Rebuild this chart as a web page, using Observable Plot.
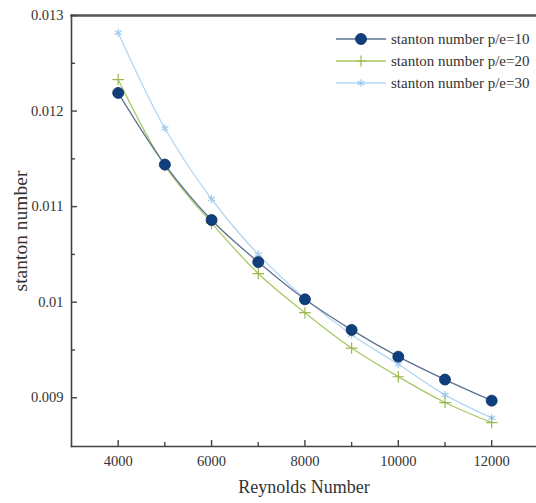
<!DOCTYPE html>
<html><head><meta charset="utf-8">
<script src="https://cdn.jsdelivr.net/npm/d3@7"></script>
<script src="https://cdn.jsdelivr.net/npm/@observablehq/plot@0.6"></script>
<style>
body{margin:0;background:#fff;}
#wrap{position:relative;width:536px;height:503px;}
#legend{position:absolute;left:334px;top:28px;font-family:"Liberation Serif",serif;font-size:15px;color:#333;}
#legend .row{display:flex;align-items:center;height:22px;white-space:nowrap;}
#legend svg{margin-right:3px;}
</style></head>
<body><div id="wrap"><div id="legend"></div></div>
<script>
const reynolds = [4000, 5000, 6000, 7000, 8000, 9000, 10000, 11000, 12000];
const st10 = [0.01219, 0.01144, 0.01086, 0.01042, 0.01003, 0.00971, 0.00943, 0.00919, 0.00897];
const st20 = [0.01233, 0.01143, 0.01083, 0.01030, 0.00989, 0.00952, 0.00922, 0.00895, 0.00874];
const st30 = [0.01282, 0.01182, 0.01108, 0.01050, 0.01004, 0.00966, 0.00935, 0.00903, 0.00879];
const seriesNames = ["stanton number p/e=10", "stanton number p/e=20", "stanton number p/e=30"];
const xMajor = [4000, 6000, 8000, 10000, 12000];
const xMinor = [5000, 7000, 9000, 11000];
const yMajor = [0.009, 0.010, 0.011, 0.012, 0.013];
const yMinor = [0.0095, 0.0105, 0.0115, 0.0125];
const yLabels = ["0.009", "0.01", "0.011", "0.012", "0.013"];
const xTitle = "Reynolds Number";
const yTitle = "stanton number";

const styles = [
  {line:"#5d7391", mark:"#0f3f7c", symbol:"circle", r:5.5, fill:true},
  {line:"#a9c866", mark:"#9ab84e", symbol:"plus", r:3.8, fill:false},
  {line:"#b2d6f4", mark:"#9fcaf0", symbol:"asterisk", r:3.8, fill:false}
];
const allSeries = [st10, st20, st30];
const data = allSeries.flatMap((s, i) => s.map((v, j) => ({x: reynolds[j], y: v, series: seriesNames[i]})));

const W = 536, H = 503, mL = 71, mR = 0, mT = 15, mB = 57;
const pw = W - mL - mR, ph = H - mT - mB;
const font = "Liberation Serif, serif";

const marks = [];
[2,1,0].forEach(i => {
  const st = styles[i];
  const d = data.filter(r => r.series === seriesNames[i]);
  marks.push(Plot.line(d, {x:"x", y:"y", stroke: st.line, strokeWidth: 1.3, curve:"catmull-rom"}));
  if (st.fill) marks.push(Plot.dot(d, {x:"x", y:"y", r: st.r, fill: st.mark, stroke: "#0a2f60", strokeWidth: 0.8, symbol: st.symbol}));
  else marks.push(Plot.dot(d, {x:"x", y:"y", r: st.r, stroke: st.mark, strokeWidth: 1.2, symbol: st.symbol}));
});
marks.push(Plot.frame({anchor:"left", stroke:"#444", strokeWidth:1.6}));
marks.push(Plot.frame({anchor:"bottom", stroke:"#444", strokeWidth:1.6}));
marks.push(Plot.frame({anchor:"top", stroke:"#555", strokeWidth:2.5}));
marks.push(Plot.tickY(yMajor, {y: d => d, stroke:"#444", strokeWidth:1.4, insetRight: pw - 6}));
marks.push(Plot.tickY(yMinor, {y: d => d, stroke:"#444", strokeWidth:1.4, insetRight: pw - 4}));
marks.push(Plot.tickX(xMajor, {x: d => d, stroke:"#444", strokeWidth:1.4, insetTop: ph - 6}));
marks.push(Plot.tickX(xMinor, {x: d => d, stroke:"#444", strokeWidth:1.4, insetTop: ph - 4}));
marks.push(Plot.axisY(yMajor, {tickSize:0, tickPadding:8, tickFormat:(d,i)=>yLabels[i], fontSize:14.5, fill:"#333", label:null}));
marks.push(Plot.axisX(xMajor, {tickSize:0, tickPadding:9, tickFormat:d=>String(d), fontSize:14.5, fill:"#333", label:null}));
marks.push(Plot.text([xTitle], {frameAnchor:"bottom", textAnchor:"middle", dy:46, text:d=>d, fontSize:18, fill:"#333"}));
marks.push(Plot.text([yTitle], {frameAnchor:"left", textAnchor:"middle", dx:-51, rotate:-90, text:d=>d, fontSize:19.5, fill:"#333"}));

const chart = Plot.plot({
  width: W, height: H,
  marginLeft: mL, marginRight: mR, marginTop: mT, marginBottom: mB,
  style: {fontFamily: font, fontSize: "14px", color:"#333", background:"#fff", overflow:"visible"},
  x: {domain:[3000, 12960]},
  y: {domain:[0.00849, 0.013]},
  marks
});
document.getElementById("wrap").prepend(chart);

const leg = document.getElementById("legend");
seriesNames.forEach((name, i) => {
  const st = styles[i];
  const row = document.createElement("div"); row.className = "row";
  const sv = d3.create("svg").attr("width", 54).attr("height", 14);
  sv.append("line").attr("x1",2).attr("x2",52).attr("y1",7).attr("y2",7).attr("stroke",st.line).attr("stroke-width",1.3);
  const type = st.symbol === "circle" ? d3.symbolCircle : st.symbol === "plus" ? d3.symbolPlus : d3.symbolAsterisk;
  const sym = d3.symbol().type(type).size(st.symbol==="circle"?95:40);
  const p = sv.append("path").attr("d", sym()).attr("transform","translate(27,7)");
  if (st.fill) p.attr("fill", st.mark).attr("stroke","#0a2f60").attr("stroke-width",0.8);
  else p.attr("fill","none").attr("stroke", st.mark).attr("stroke-width",1.2);
  row.appendChild(sv.node());
  const t = document.createElement("span"); t.textContent = name; row.appendChild(t);
  leg.appendChild(row);
});
</script></body></html>
